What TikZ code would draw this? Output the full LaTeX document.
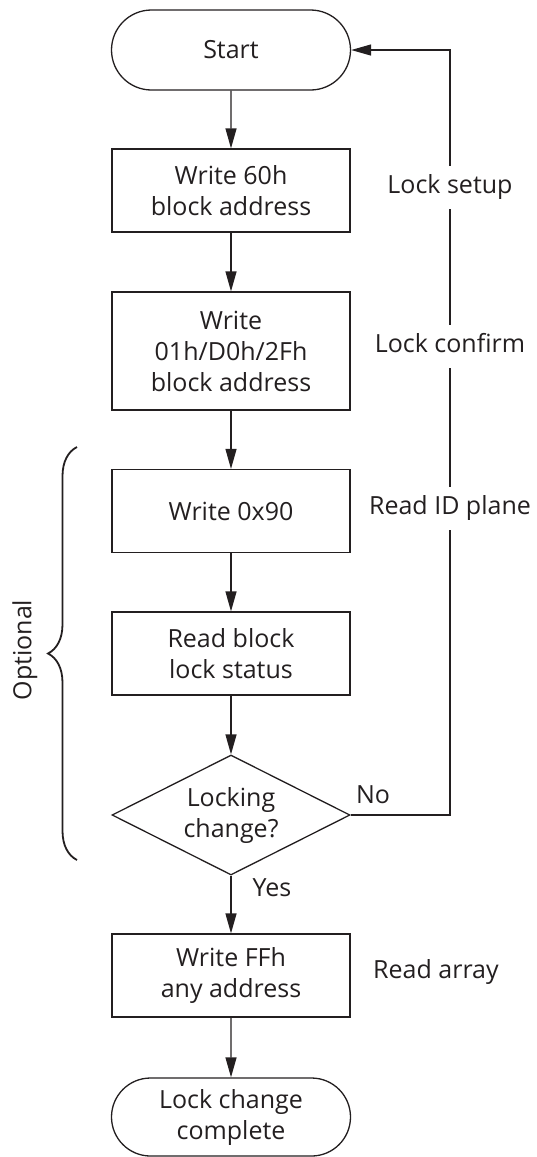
\documentclass[tikz,border=0pt]{standalone}
\usepackage{fontspec}
\setmainfont{Open Sans}
\usetikzlibrary{shapes.geometric,shapes.misc,arrows.meta,decorations.pathreplacing}
\definecolor{ink}{HTML}{231F20}

\begin{document}
\begin{tikzpicture}[x=1pt,y=-1pt,line width=1.3pt,color=ink,
  font=\fontsize{25}{31}\selectfont,
  box/.style={draw,rectangle,minimum width=238pt,minimum height=83pt,align=center,inner sep=0pt},
  term/.style={draw,rounded rectangle,minimum width=239pt,minimum height=80pt,align=center,inner sep=0pt},
  decision/.style={draw,diamond,aspect=2,minimum width=238pt,minimum height=120pt,align=center,inner sep=0pt},
  flow/.style={-{Triangle[length=20pt,width=11pt]}},
  lbl/.style={fill=white,text height=19pt,text depth=6pt,inner xsep=2pt,inner ysep=9pt}]
\useasboundingbox (0,0) rectangle (537,1157);
\node[term] (start) at (231,50) {Start};
\node[box] (write60) at (231,190.5) {Write 60h\\block address};
\node[box,minimum height=118pt] (writecfm) at (231,351) {Write\\01h/D0h/2Fh\\block address};
\node[box] (write90) at (231,511) {Write 0x90};
\node[box] (readlock) at (231,653.5) {Read block\\lock status};
\node[decision] (check) at (231,815) {Locking\\change?};
\node[box] (writeff) at (231,975.5) {Write FFh\\any address};
\node[term,minimum height=78pt] (done) at (231,1117) {Lock change\\complete};
\draw[flow] (start) -- (write60);
\draw[flow] (write60) -- (writecfm);
\draw[flow] (writecfm) -- (write90);
\draw[flow] (write90) -- (readlock);
\draw[flow] (readlock) -- (check);
\draw[flow] (check) -- (writeff);
\draw[flow] (writeff) -- (done);
\coordinate (loop) at (450,50);
\draw[flow] (check.east) -| (loop) -- (start.east);
\node[lbl] (setup) at (450,187) {Lock setup};
\node[lbl] (confirm) at (450,346) {Lock confirm};
\node[lbl] (readid) at (450,508) {Read ID plane};
\node (no) at (373,795) {No};
\node (yes) at (272,888) {Yes};
\node (readarr) at (436,972) {Read array};
\node[rotate=90] (optional) at (25,650) {Optional};
\draw[line width=1.8pt,decorate,decoration={brace,amplitude=29pt}] (77,860) -- (77,447);
\end{tikzpicture}
\end{document}
